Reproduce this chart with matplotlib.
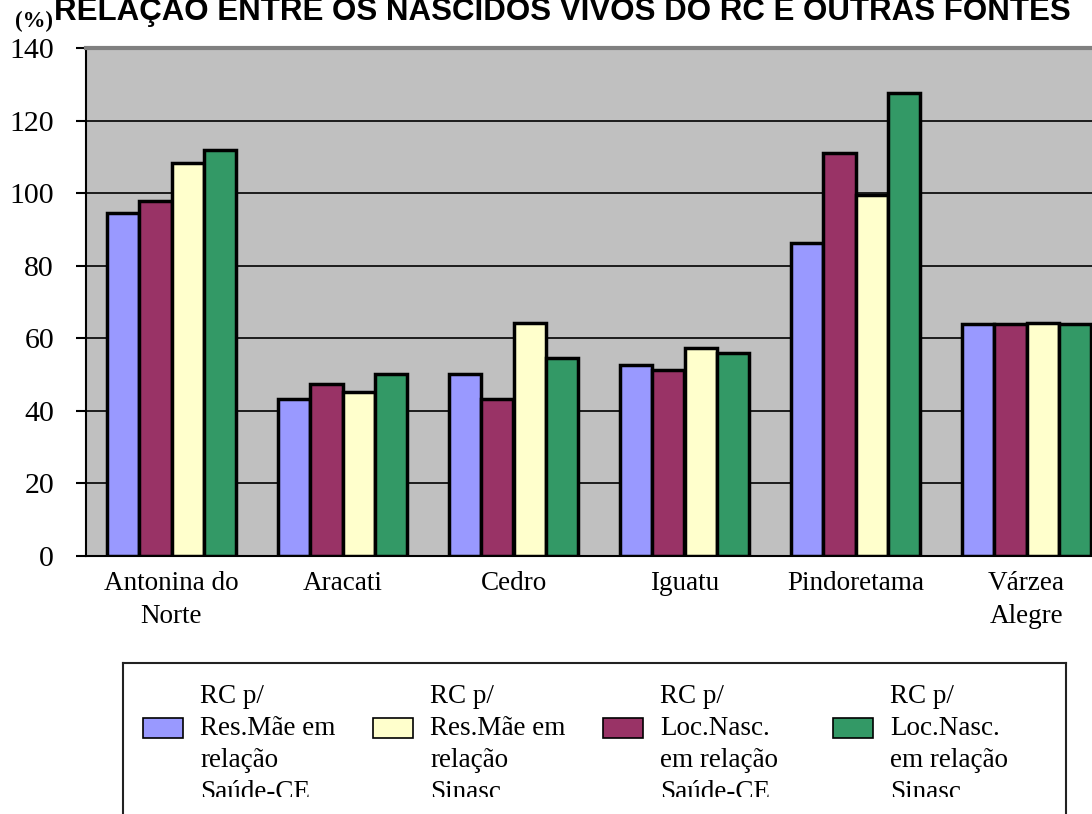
import numpy as np
import matplotlib
matplotlib.use('Agg')
import matplotlib.pyplot as plt
from matplotlib.patches import Rectangle

# data
municipios = ['Antonina do\nNorte', 'Aracati', 'Cedro', 'Iguatu', 'Pindoretama', 'Várzea\nAlegre']
res_mae_saude = [94.5, 43.2, 50.1, 52.6, 86.3, 63.9]
loc_nasc_saude = [97.7, 47.5, 43.2, 51.2, 111.1, 63.9]
res_mae_sinasc = [108.4, 45.3, 64.3, 57.3, 99.5, 64.3]
loc_nasc_sinasc = [111.9, 50.1, 54.5, 56.0, 127.7, 63.9]

series = [res_mae_saude, loc_nasc_saude, res_mae_sinasc, loc_nasc_sinasc]
cores = ['#9999FF', '#993366', '#FFFFCC', '#339966']
rotulos = ['RC p/\nRes.Mãe em\nrelação\nSaúde-CE',
           'RC p/\nLoc.Nasc.\nem relação\nSaúde-CE',
           'RC p/\nRes.Mãe em\nrelação\nSinasc',
           'RC p/\nLoc.Nasc.\nem relação\nSinasc']
ordem_legenda = [0, 2, 1, 3]

W, H = 1092, 814
fig = plt.figure(figsize=(W / 100, H / 100), dpi=100)
serif = 'Liberation Serif'


def fx(px):
    return px / W


def fy(py):
    return 1 - py / H


ax = fig.add_axes([fx(86), fy(556), fx(1026), (556 - 48) / H])
ax.set_facecolor('#C0C0C0')

x = np.arange(len(municipios))
largura = 0.19
for j, (vals, cor) in enumerate(zip(series, cores)):
    ax.bar(x + 0.5 + (j - 1.5) * largura, vals, largura, color=cor,
           edgecolor='black', linewidth=2.5, zorder=3)

ax.set_xlim(0, len(municipios))
ax.set_ylim(0, 140)
ax.set_yticks(range(0, 141, 20))
ax.yaxis.grid(True, color='black', linewidth=1.2, zorder=1)
ax.set_axisbelow(True)
ax.tick_params(axis='y', direction='out', length=7, width=1.5, pad=16,
               labelsize=21.5)
ax.tick_params(axis='x', length=0, pad=11, labelsize=19.5)
ax.set_xticks(x + 0.5)
ax.set_xticklabels(municipios, linespacing=1.4)
for lbl in ax.get_xticklabels() + ax.get_yticklabels():
    lbl.set_fontfamily(serif)
ax.spines['left'].set_linewidth(1.5)
ax.spines['bottom'].set_linewidth(1.5)
ax.spines['top'].set_color('#808080')
ax.spines['top'].set_linewidth(3)
ax.spines['right'].set_color('#808080')

fig.text(fx(34), fy(21), '(%)', ha='center', va='center', fontsize=16.5,
         fontweight='bold', family=serif)
fig.text(fx(562), fy(20), 'RELAÇÃO ENTRE OS NASCIDOS VIVOS DO RC E OUTRAS FONTES',
         ha='center', va='baseline', fontsize=22.5, fontweight='bold',
         family='Liberation Sans')

# legenda desenhada a mao (a caixa e cortada embaixo)
leg = fig.add_axes([fx(123), fy(830), fx(1066 - 123), (830 - 663) / H])
leg.set_xticks([])
leg.set_yticks([])
leg.set_facecolor('white')
for s in leg.spines.values():
    s.set_linewidth(1.5)
    s.set_color('#222222')

clip = Rectangle((0, fy(797)), 1, 1, transform=fig.transFigure)
for k, idx in enumerate(ordem_legenda):
    x0 = 123 + 20 + 230 * k
    fig.patches.append(Rectangle((fx(x0), fy(738)), fx(40), 20 / H,
                                 transform=fig.transFigure,
                                 facecolor=cores[idx], edgecolor='black',
                                 linewidth=1.2, zorder=5))
    t = fig.text(fx(x0 + 57), fy(684), rotulos[idx], ha='left', va='top',
                 fontsize=19.5, family=serif, linespacing=1.37, zorder=5)
    t.set_clip_path(clip)

fig.savefig('out.png', dpi=100)
